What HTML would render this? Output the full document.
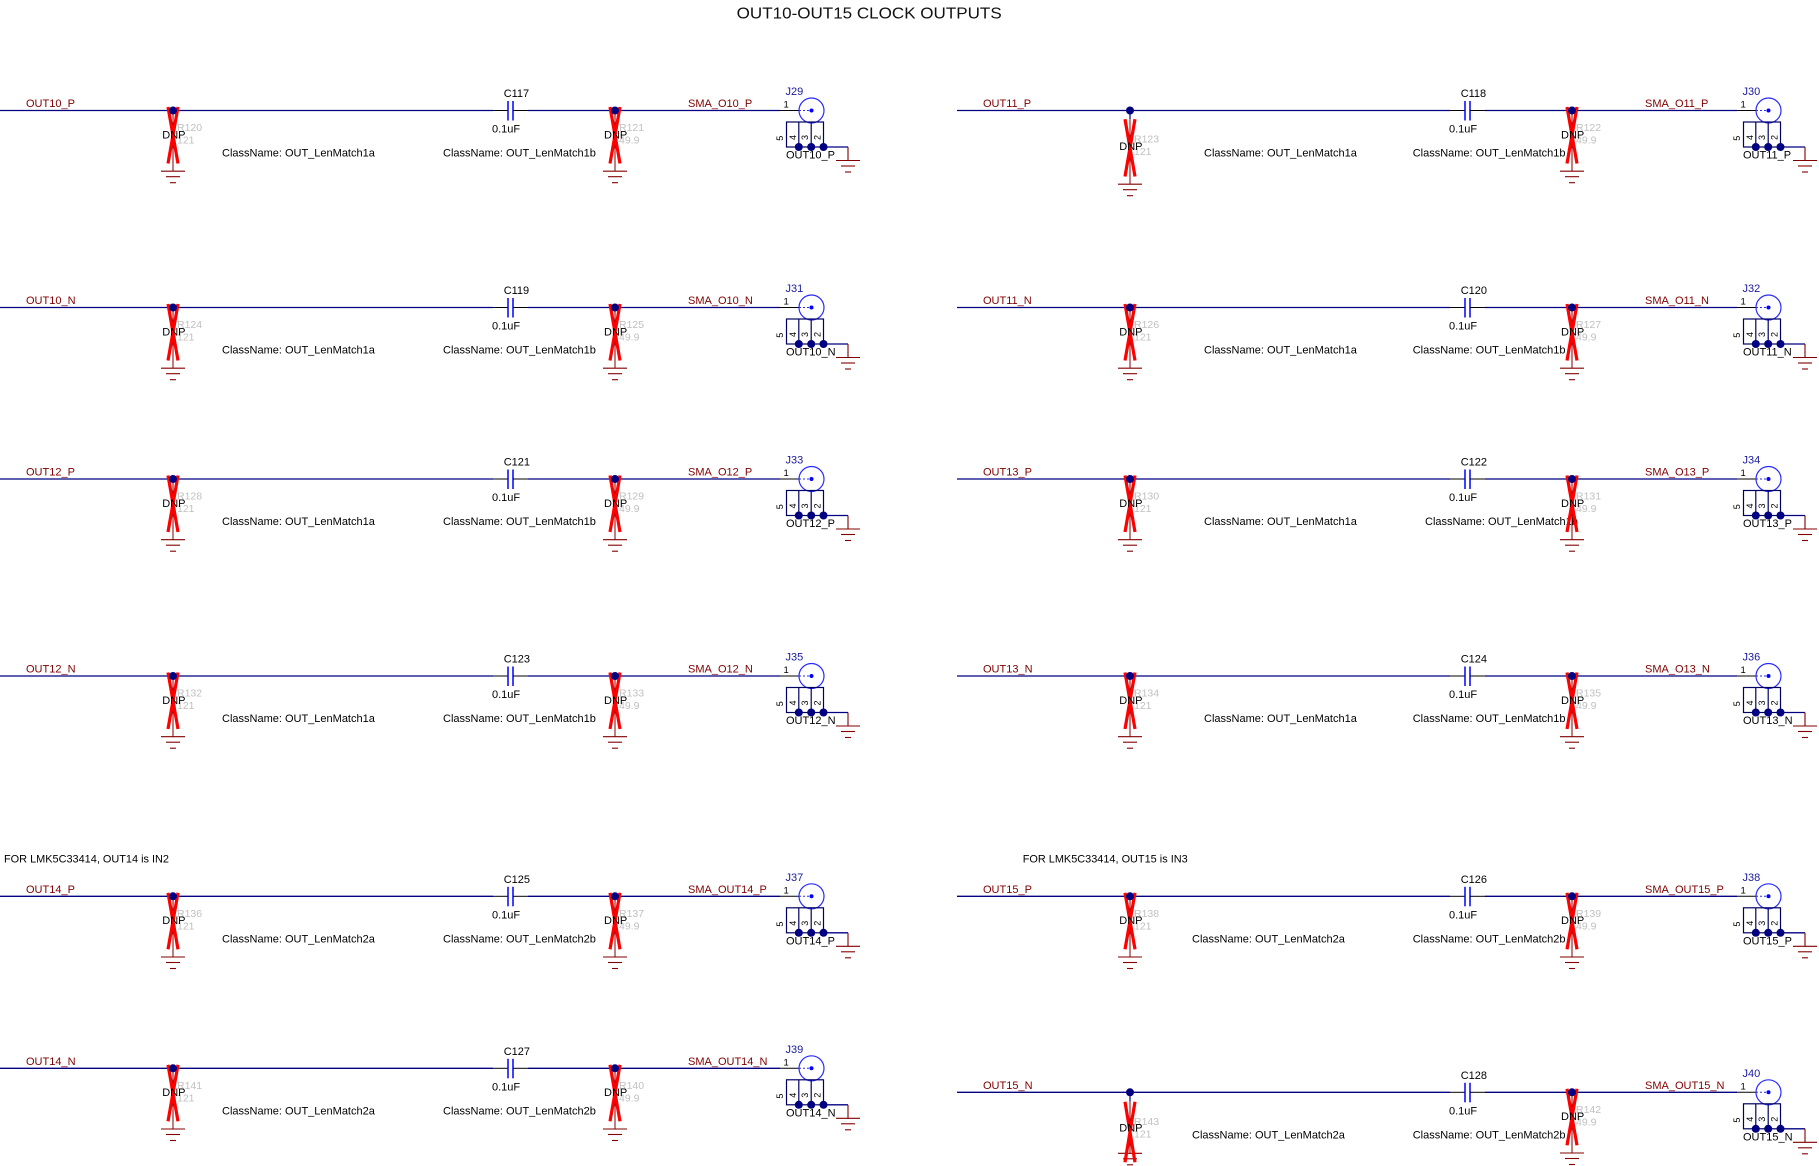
<!DOCTYPE html>
<html>
<head>
<meta charset="utf-8">
<style>
html,body{margin:0;padding:0;background:#fff;}
svg{display:block;}
.t{font-family:"Liberation Sans",Arial,sans-serif;font-size:11px;fill:#000;}
.nl{fill:#800000;}
.rl{fill:#c0c0c0;font-size:10.5px;}
.jl{fill:#1a1aa0;}
.pn{font-size:9.5px;}
.dg{font-size:9px;}
.ti{font-size:16px;fill:#111;}
.net{stroke:#000080;stroke-width:1.3;}
.blk{stroke:#000;stroke-width:1;}
</style>
</head>
<body>
<svg xmlns="http://www.w3.org/2000/svg" xmlns:xlink="http://www.w3.org/1999/xlink" width="1819" height="1166" viewBox="0 0 1819 1166">
<defs>
  <g id="gnd" stroke="#800000" stroke-width="1.1">
    <line x1="-12" y1="0" x2="12" y2="0"/>
    <line x1="-7" y1="5.5" x2="7" y2="5.5"/>
    <line x1="-3" y1="11.5" x2="3" y2="11.5"/>
  </g>
  <g id="res">
    <line x1="0" y1="0" x2="0" y2="60.7" stroke="#800000" stroke-width="1"/>
    <line x1="-5" y1="-3.5" x2="5" y2="53" stroke="#ff0000" stroke-width="3.2"/>
    <line x1="5" y1="-3.5" x2="-5" y2="53" stroke="#ff0000" stroke-width="3.2"/>
    <circle cx="0" cy="0" r="4" fill="#000080"/>
    <use xlink:href="#gnd" href="#gnd" x="0" y="60.7"/>
  </g>
  <g id="resL">
    <line x1="0" y1="0" x2="0" y2="8.7" stroke="#000080" stroke-width="1.2"/>
    <line x1="0" y1="8.7" x2="0" y2="73.7" stroke="#800000" stroke-width="1"/>
    <line x1="-5" y1="8.7" x2="5" y2="66" stroke="#ff0000" stroke-width="3.2"/>
    <line x1="5" y1="8.7" x2="-5" y2="66" stroke="#ff0000" stroke-width="3.2"/>
    <circle cx="0" cy="0" r="4" fill="#000080"/>
    <use xlink:href="#gnd" href="#gnd" x="0" y="73.7"/>
  </g>
  <g id="resB">
    <line x1="0" y1="0" x2="0" y2="9.4" stroke="#000080" stroke-width="1.2"/>
    <line x1="0" y1="9.4" x2="0" y2="61" stroke="#800000" stroke-width="1"/>
    <use xlink:href="#gnd" href="#gnd" x="0" y="61"/>
    <line x1="-5" y1="9.4" x2="5" y2="70" stroke="#ff0000" stroke-width="3.2"/>
    <line x1="5" y1="9.4" x2="-5" y2="70" stroke="#ff0000" stroke-width="3.2"/>
    <circle cx="0" cy="0" r="4" fill="#000080"/>
  </g>
  <g id="wire">
    <line class="net" x1="0" y1="0" x2="493" y2="0"/>
    <line class="blk" x1="493" y1="0" x2="508" y2="0"/>
    <line x1="508" y1="-9.5" x2="508" y2="10" stroke="#0000ff" stroke-width="1.5"/>
    <line x1="513" y1="-9.5" x2="513" y2="10" stroke="#0000ff" stroke-width="1.5"/>
    <line class="blk" x1="513" y1="0" x2="528" y2="0"/>
    <line class="net" x1="528" y1="0" x2="780" y2="0"/>
  </g>
  <g id="conn">
    <line x1="780" y1="0" x2="799" y2="0" stroke="#000" stroke-width="1"/>
    <circle cx="811.5" cy="0" r="12.5" fill="none" stroke="#2a2aff" stroke-width="1.2"/>
    <line x1="799" y1="0" x2="811.5" y2="0" stroke="#2a2aff" stroke-width="1" stroke-dasharray="2,2"/>
    <circle cx="811.5" cy="0" r="2" fill="#0000ff"/>
    <rect x="786.5" y="11.5" width="37" height="25" fill="none" stroke="#000060" stroke-width="1.2"/>
    <line x1="798.8" y1="11.5" x2="798.8" y2="36.5" stroke="#000060" stroke-width="1.2"/>
    <line x1="811.2" y1="11.5" x2="811.2" y2="36.5" stroke="#000060" stroke-width="1.2"/>
    <line x1="823.5" y1="36.5" x2="848" y2="36.5" stroke="#000080" stroke-width="1.3"/>
    <line x1="848" y1="36.5" x2="848" y2="50" stroke="#800000" stroke-width="1.1"/>
    <use xlink:href="#gnd" href="#gnd" x="848" y="50"/>
    <circle cx="798.8" cy="36.5" r="4" fill="#000080"/>
    <circle cx="811.2" cy="36.5" r="4" fill="#000080"/>
    <circle cx="823.5" cy="36.5" r="4" fill="#000080"/>
  </g>
</defs>

<text class="t ti" x="736.7" y="18.3" textLength="265" lengthAdjust="spacingAndGlyphs">OUT10-OUT15 CLOCK OUTPUTS</text>

<text class="t" x="4" y="862.7" textLength="165" lengthAdjust="spacingAndGlyphs">FOR LMK5C33414, OUT14 is IN2</text>
<text class="t" x="1022.7" y="862.7" textLength="165" lengthAdjust="spacingAndGlyphs">FOR LMK5C33414, OUT15 is IN3</text>

<!-- ================= LEFT COLUMN ================= -->
<!-- L1 -->
<g transform="translate(0,110.5)">
  <use xlink:href="#wire" href="#wire"/>
  <text class="t nl" x="26" y="-3.5">OUT10_P</text>
  <text class="t rl" x="177" y="20.5">R120</text>
  <text class="t rl" x="177" y="33">121</text>
  <use xlink:href="#res" href="#res" x="173"/>
  <text class="t" x="162.3" y="27.8">DNP</text>
  <text class="t" x="222" y="46">ClassName: OUT_LenMatch1a</text>
  <text class="t" x="503.7" y="-13.5">C117</text>
  <text class="t" x="492" y="22">0.1uF</text>
  <text class="t" x="443" y="46">ClassName: OUT_LenMatch1b</text>
  <text class="t rl" x="619" y="20.5">R121</text>
  <text class="t rl" x="619" y="33">49.9</text>
  <use xlink:href="#res" href="#res" x="615"/>
  <text class="t" x="604" y="27.8">DNP</text>
  <text class="t nl" x="688" y="-3.5">SMA_O10_P</text>
  <text class="t jl" x="785.5" y="-15.3">J29</text>
  <text class="t pn" x="783.5" y="-3">1</text>
  <use xlink:href="#conn" href="#conn"/>
  <text class="t dg" transform="translate(779.7,27.8) rotate(-90)" x="0" y="3.2" text-anchor="middle">5</text>
  <text class="t dg" transform="translate(792.8,27) rotate(-90)" x="0" y="3.2" text-anchor="middle">4</text>
  <text class="t dg" transform="translate(805,27) rotate(-90)" x="0" y="3.2" text-anchor="middle">3</text>
  <text class="t dg" transform="translate(817.3,27) rotate(-90)" x="0" y="3.2" text-anchor="middle">2</text>
  <text class="t" x="786" y="48">OUT10_P</text>
</g>
<!-- L2 -->
<g transform="translate(0,307.5)">
  <use xlink:href="#wire" href="#wire"/>
  <text class="t nl" x="26" y="-3.5">OUT10_N</text>
  <text class="t rl" x="177" y="20.5">R124</text>
  <text class="t rl" x="177" y="33">121</text>
  <use xlink:href="#res" href="#res" x="173"/>
  <text class="t" x="162.3" y="27.8">DNP</text>
  <text class="t" x="222" y="46">ClassName: OUT_LenMatch1a</text>
  <text class="t" x="503.7" y="-13.5">C119</text>
  <text class="t" x="492" y="22">0.1uF</text>
  <text class="t" x="443" y="46">ClassName: OUT_LenMatch1b</text>
  <text class="t rl" x="619" y="20.5">R125</text>
  <text class="t rl" x="619" y="33">49.9</text>
  <use xlink:href="#res" href="#res" x="615"/>
  <text class="t" x="604" y="27.8">DNP</text>
  <text class="t nl" x="688" y="-3.5">SMA_O10_N</text>
  <text class="t jl" x="785.5" y="-15.3">J31</text>
  <text class="t pn" x="783.5" y="-3">1</text>
  <use xlink:href="#conn" href="#conn"/>
  <text class="t dg" transform="translate(779.7,27.8) rotate(-90)" x="0" y="3.2" text-anchor="middle">5</text>
  <text class="t dg" transform="translate(792.8,27) rotate(-90)" x="0" y="3.2" text-anchor="middle">4</text>
  <text class="t dg" transform="translate(805,27) rotate(-90)" x="0" y="3.2" text-anchor="middle">3</text>
  <text class="t dg" transform="translate(817.3,27) rotate(-90)" x="0" y="3.2" text-anchor="middle">2</text>
  <text class="t" x="786" y="48">OUT10_N</text>
</g>
<!-- L3 -->
<g transform="translate(0,479)">
  <use xlink:href="#wire" href="#wire"/>
  <text class="t nl" x="26" y="-3.5">OUT12_P</text>
  <text class="t rl" x="177" y="20.5">R128</text>
  <text class="t rl" x="177" y="33">121</text>
  <use xlink:href="#res" href="#res" x="173"/>
  <text class="t" x="162.3" y="27.8">DNP</text>
  <text class="t" x="222" y="46">ClassName: OUT_LenMatch1a</text>
  <text class="t" x="503.7" y="-13.5">C121</text>
  <text class="t" x="492" y="22">0.1uF</text>
  <text class="t" x="443" y="46">ClassName: OUT_LenMatch1b</text>
  <text class="t rl" x="619" y="20.5">R129</text>
  <text class="t rl" x="619" y="33">49.9</text>
  <use xlink:href="#res" href="#res" x="615"/>
  <text class="t" x="604" y="27.8">DNP</text>
  <text class="t nl" x="688" y="-3.5">SMA_O12_P</text>
  <text class="t jl" x="785.5" y="-15.3">J33</text>
  <text class="t pn" x="783.5" y="-3">1</text>
  <use xlink:href="#conn" href="#conn"/>
  <text class="t dg" transform="translate(779.7,27.8) rotate(-90)" x="0" y="3.2" text-anchor="middle">5</text>
  <text class="t dg" transform="translate(792.8,27) rotate(-90)" x="0" y="3.2" text-anchor="middle">4</text>
  <text class="t dg" transform="translate(805,27) rotate(-90)" x="0" y="3.2" text-anchor="middle">3</text>
  <text class="t dg" transform="translate(817.3,27) rotate(-90)" x="0" y="3.2" text-anchor="middle">2</text>
  <text class="t" x="786" y="48">OUT12_P</text>
</g>
<!-- L4 -->
<g transform="translate(0,676)">
  <use xlink:href="#wire" href="#wire"/>
  <text class="t nl" x="26" y="-3.5">OUT12_N</text>
  <text class="t rl" x="177" y="20.5">R132</text>
  <text class="t rl" x="177" y="33">121</text>
  <use xlink:href="#res" href="#res" x="173"/>
  <text class="t" x="162.3" y="27.8">DNP</text>
  <text class="t" x="222" y="46">ClassName: OUT_LenMatch1a</text>
  <text class="t" x="503.7" y="-13.5">C123</text>
  <text class="t" x="492" y="22">0.1uF</text>
  <text class="t" x="443" y="46">ClassName: OUT_LenMatch1b</text>
  <text class="t rl" x="619" y="20.5">R133</text>
  <text class="t rl" x="619" y="33">49.9</text>
  <use xlink:href="#res" href="#res" x="615"/>
  <text class="t" x="604" y="27.8">DNP</text>
  <text class="t nl" x="688" y="-3.5">SMA_O12_N</text>
  <text class="t jl" x="785.5" y="-15.3">J35</text>
  <text class="t pn" x="783.5" y="-3">1</text>
  <use xlink:href="#conn" href="#conn"/>
  <text class="t dg" transform="translate(779.7,27.8) rotate(-90)" x="0" y="3.2" text-anchor="middle">5</text>
  <text class="t dg" transform="translate(792.8,27) rotate(-90)" x="0" y="3.2" text-anchor="middle">4</text>
  <text class="t dg" transform="translate(805,27) rotate(-90)" x="0" y="3.2" text-anchor="middle">3</text>
  <text class="t dg" transform="translate(817.3,27) rotate(-90)" x="0" y="3.2" text-anchor="middle">2</text>
  <text class="t" x="786" y="48">OUT12_N</text>
</g>
<!-- L5 -->
<g transform="translate(0,896.3)">
  <use xlink:href="#wire" href="#wire"/>
  <text class="t nl" x="26" y="-3.5">OUT14_P</text>
  <text class="t rl" x="177" y="20.5">R136</text>
  <text class="t rl" x="177" y="33">121</text>
  <use xlink:href="#res" href="#res" x="173"/>
  <text class="t" x="162.3" y="27.8">DNP</text>
  <text class="t" x="222" y="46">ClassName: OUT_LenMatch2a</text>
  <text class="t" x="503.7" y="-13.5">C125</text>
  <text class="t" x="492" y="22">0.1uF</text>
  <text class="t" x="443" y="46">ClassName: OUT_LenMatch2b</text>
  <text class="t rl" x="619" y="20.5">R137</text>
  <text class="t rl" x="619" y="33">49.9</text>
  <use xlink:href="#res" href="#res" x="615"/>
  <text class="t" x="604" y="27.8">DNP</text>
  <text class="t nl" x="688" y="-3.5">SMA_OUT14_P</text>
  <text class="t jl" x="785.5" y="-15.3">J37</text>
  <text class="t pn" x="783.5" y="-3">1</text>
  <use xlink:href="#conn" href="#conn"/>
  <text class="t dg" transform="translate(779.7,27.8) rotate(-90)" x="0" y="3.2" text-anchor="middle">5</text>
  <text class="t dg" transform="translate(792.8,27) rotate(-90)" x="0" y="3.2" text-anchor="middle">4</text>
  <text class="t dg" transform="translate(805,27) rotate(-90)" x="0" y="3.2" text-anchor="middle">3</text>
  <text class="t dg" transform="translate(817.3,27) rotate(-90)" x="0" y="3.2" text-anchor="middle">2</text>
  <text class="t" x="786" y="48">OUT14_P</text>
</g>
<!-- L6 -->
<g transform="translate(0,1068.3)">
  <use xlink:href="#wire" href="#wire"/>
  <text class="t nl" x="26" y="-3.5">OUT14_N</text>
  <text class="t rl" x="177" y="20.5">R141</text>
  <text class="t rl" x="177" y="33">121</text>
  <use xlink:href="#res" href="#res" x="173"/>
  <text class="t" x="162.3" y="27.8">DNP</text>
  <text class="t" x="222" y="46">ClassName: OUT_LenMatch2a</text>
  <text class="t" x="503.7" y="-13.5">C127</text>
  <text class="t" x="492" y="22">0.1uF</text>
  <text class="t" x="443" y="46">ClassName: OUT_LenMatch2b</text>
  <text class="t rl" x="619" y="20.5">R140</text>
  <text class="t rl" x="619" y="33">49.9</text>
  <use xlink:href="#res" href="#res" x="615"/>
  <text class="t" x="604" y="27.8">DNP</text>
  <text class="t nl" x="688" y="-3.5">SMA_OUT14_N</text>
  <text class="t jl" x="785.5" y="-15.3">J39</text>
  <text class="t pn" x="783.5" y="-3">1</text>
  <use xlink:href="#conn" href="#conn"/>
  <text class="t dg" transform="translate(779.7,27.8) rotate(-90)" x="0" y="3.2" text-anchor="middle">5</text>
  <text class="t dg" transform="translate(792.8,27) rotate(-90)" x="0" y="3.2" text-anchor="middle">4</text>
  <text class="t dg" transform="translate(805,27) rotate(-90)" x="0" y="3.2" text-anchor="middle">3</text>
  <text class="t dg" transform="translate(817.3,27) rotate(-90)" x="0" y="3.2" text-anchor="middle">2</text>
  <text class="t" x="786" y="48">OUT14_N</text>
</g>

<!-- ================= RIGHT COLUMN ================= -->
<!-- R1 -->
<g transform="translate(957,110.5)">
  <use xlink:href="#wire" href="#wire"/>
  <text class="t nl" x="26" y="-3.5">OUT11_P</text>
  <text class="t rl" x="177" y="32">R123</text>
  <text class="t rl" x="177" y="44.5">121</text>
  <use xlink:href="#resL" href="#resL" x="173"/>
  <text class="t" x="162.3" y="39.3">DNP</text>
  <text class="t" x="247" y="46">ClassName: OUT_LenMatch1a</text>
  <text class="t" x="503.7" y="-13.5">C118</text>
  <text class="t" x="492" y="22">0.1uF</text>
  <text class="t" x="455.7" y="46">ClassName: OUT_LenMatch1b</text>
  <text class="t rl" x="619" y="20.5">R122</text>
  <text class="t rl" x="619" y="33">49.9</text>
  <use xlink:href="#res" href="#res" x="615"/>
  <text class="t" x="604" y="27.8">DNP</text>
  <text class="t nl" x="688" y="-3.5">SMA_O11_P</text>
  <text class="t jl" x="785.5" y="-15.3">J30</text>
  <text class="t pn" x="783.5" y="-3">1</text>
  <use xlink:href="#conn" href="#conn"/>
  <text class="t dg" transform="translate(779.7,27.8) rotate(-90)" x="0" y="3.2" text-anchor="middle">5</text>
  <text class="t dg" transform="translate(792.8,27) rotate(-90)" x="0" y="3.2" text-anchor="middle">4</text>
  <text class="t dg" transform="translate(805,27) rotate(-90)" x="0" y="3.2" text-anchor="middle">3</text>
  <text class="t dg" transform="translate(817.3,27) rotate(-90)" x="0" y="3.2" text-anchor="middle">2</text>
  <text class="t" x="786" y="48">OUT11_P</text>
</g>
<!-- R2 -->
<g transform="translate(957,307.5)">
  <use xlink:href="#wire" href="#wire"/>
  <text class="t nl" x="26" y="-3.5">OUT11_N</text>
  <text class="t rl" x="177" y="20.5">R126</text>
  <text class="t rl" x="177" y="33">121</text>
  <use xlink:href="#res" href="#res" x="173"/>
  <text class="t" x="162.3" y="27.8">DNP</text>
  <text class="t" x="247" y="46">ClassName: OUT_LenMatch1a</text>
  <text class="t" x="503.7" y="-13.5">C120</text>
  <text class="t" x="492" y="22">0.1uF</text>
  <text class="t" x="455.7" y="46">ClassName: OUT_LenMatch1b</text>
  <text class="t rl" x="619" y="20.5">R127</text>
  <text class="t rl" x="619" y="33">49.9</text>
  <use xlink:href="#res" href="#res" x="615"/>
  <text class="t" x="604" y="27.8">DNP</text>
  <text class="t nl" x="688" y="-3.5">SMA_O11_N</text>
  <text class="t jl" x="785.5" y="-15.3">J32</text>
  <text class="t pn" x="783.5" y="-3">1</text>
  <use xlink:href="#conn" href="#conn"/>
  <text class="t dg" transform="translate(779.7,27.8) rotate(-90)" x="0" y="3.2" text-anchor="middle">5</text>
  <text class="t dg" transform="translate(792.8,27) rotate(-90)" x="0" y="3.2" text-anchor="middle">4</text>
  <text class="t dg" transform="translate(805,27) rotate(-90)" x="0" y="3.2" text-anchor="middle">3</text>
  <text class="t dg" transform="translate(817.3,27) rotate(-90)" x="0" y="3.2" text-anchor="middle">2</text>
  <text class="t" x="786" y="48">OUT11_N</text>
</g>
<!-- R3 -->
<g transform="translate(957,479)">
  <use xlink:href="#wire" href="#wire"/>
  <text class="t nl" x="26" y="-3.5">OUT13_P</text>
  <text class="t rl" x="177" y="20.5">R130</text>
  <text class="t rl" x="177" y="33">121</text>
  <use xlink:href="#res" href="#res" x="173"/>
  <text class="t" x="162.3" y="27.8">DNP</text>
  <text class="t" x="247" y="46">ClassName: OUT_LenMatch1a</text>
  <text class="t" x="503.7" y="-13.5">C122</text>
  <text class="t" x="492" y="22">0.1uF</text>
  <text class="t rl" x="619" y="20.5">R131</text>
  <text class="t rl" x="619" y="33">49.9</text>
  <text class="t" x="468" y="46">ClassName: OUT_LenMatch1b</text>
  <use xlink:href="#res" href="#res" x="615"/>
  <text class="t" x="604" y="27.8">DNP</text>
  <text class="t nl" x="688" y="-3.5">SMA_O13_P</text>
  <text class="t jl" x="785.5" y="-15.3">J34</text>
  <text class="t pn" x="783.5" y="-3">1</text>
  <use xlink:href="#conn" href="#conn"/>
  <text class="t dg" transform="translate(779.7,27.8) rotate(-90)" x="0" y="3.2" text-anchor="middle">5</text>
  <text class="t dg" transform="translate(792.8,27) rotate(-90)" x="0" y="3.2" text-anchor="middle">4</text>
  <text class="t dg" transform="translate(805,27) rotate(-90)" x="0" y="3.2" text-anchor="middle">3</text>
  <text class="t dg" transform="translate(817.3,27) rotate(-90)" x="0" y="3.2" text-anchor="middle">2</text>
  <text class="t" x="786" y="48">OUT13_P</text>
</g>
<!-- R4 -->
<g transform="translate(957,676)">
  <use xlink:href="#wire" href="#wire"/>
  <text class="t nl" x="26" y="-3.5">OUT13_N</text>
  <text class="t rl" x="177" y="20.5">R134</text>
  <text class="t rl" x="177" y="33">121</text>
  <use xlink:href="#res" href="#res" x="173"/>
  <text class="t" x="162.3" y="27.8">DNP</text>
  <text class="t" x="247" y="46">ClassName: OUT_LenMatch1a</text>
  <text class="t" x="503.7" y="-13.5">C124</text>
  <text class="t" x="492" y="22">0.1uF</text>
  <text class="t" x="455.7" y="46">ClassName: OUT_LenMatch1b</text>
  <text class="t rl" x="619" y="20.5">R135</text>
  <text class="t rl" x="619" y="33">49.9</text>
  <use xlink:href="#res" href="#res" x="615"/>
  <text class="t" x="604" y="27.8">DNP</text>
  <text class="t nl" x="688" y="-3.5">SMA_O13_N</text>
  <text class="t jl" x="785.5" y="-15.3">J36</text>
  <text class="t pn" x="783.5" y="-3">1</text>
  <use xlink:href="#conn" href="#conn"/>
  <text class="t dg" transform="translate(779.7,27.8) rotate(-90)" x="0" y="3.2" text-anchor="middle">5</text>
  <text class="t dg" transform="translate(792.8,27) rotate(-90)" x="0" y="3.2" text-anchor="middle">4</text>
  <text class="t dg" transform="translate(805,27) rotate(-90)" x="0" y="3.2" text-anchor="middle">3</text>
  <text class="t dg" transform="translate(817.3,27) rotate(-90)" x="0" y="3.2" text-anchor="middle">2</text>
  <text class="t" x="786" y="48">OUT13_N</text>
</g>
<!-- R5 -->
<g transform="translate(957,896.3)">
  <use xlink:href="#wire" href="#wire"/>
  <text class="t nl" x="26" y="-3.5">OUT15_P</text>
  <text class="t rl" x="177" y="20.5">R138</text>
  <text class="t rl" x="177" y="33">121</text>
  <use xlink:href="#res" href="#res" x="173"/>
  <text class="t" x="162.3" y="27.8">DNP</text>
  <text class="t" x="235" y="46">ClassName: OUT_LenMatch2a</text>
  <text class="t" x="503.7" y="-13.5">C126</text>
  <text class="t" x="492" y="22">0.1uF</text>
  <text class="t" x="455.7" y="46">ClassName: OUT_LenMatch2b</text>
  <text class="t rl" x="619" y="20.5">R139</text>
  <text class="t rl" x="619" y="33">49.9</text>
  <use xlink:href="#res" href="#res" x="615"/>
  <text class="t" x="604" y="27.8">DNP</text>
  <text class="t nl" x="688" y="-3.5">SMA_OUT15_P</text>
  <text class="t jl" x="785.5" y="-15.3">J38</text>
  <text class="t pn" x="783.5" y="-3">1</text>
  <use xlink:href="#conn" href="#conn"/>
  <text class="t dg" transform="translate(779.7,27.8) rotate(-90)" x="0" y="3.2" text-anchor="middle">5</text>
  <text class="t dg" transform="translate(792.8,27) rotate(-90)" x="0" y="3.2" text-anchor="middle">4</text>
  <text class="t dg" transform="translate(805,27) rotate(-90)" x="0" y="3.2" text-anchor="middle">3</text>
  <text class="t dg" transform="translate(817.3,27) rotate(-90)" x="0" y="3.2" text-anchor="middle">2</text>
  <text class="t" x="786" y="48">OUT15_P</text>
</g>
<!-- R6 -->
<g transform="translate(957,1092.3)">
  <use xlink:href="#wire" href="#wire"/>
  <text class="t nl" x="26" y="-3.5">OUT15_N</text>
  <text class="t rl" x="177" y="32.7">R143</text>
  <text class="t rl" x="177" y="45.4">121</text>
  <use xlink:href="#resB" href="#resB" x="173"/>
  <text class="t" x="162.3" y="39.4">DNP</text>
  <text class="t" x="235" y="46">ClassName: OUT_LenMatch2a</text>
  <text class="t" x="503.7" y="-13.5">C128</text>
  <text class="t" x="492" y="22">0.1uF</text>
  <text class="t" x="455.7" y="46">ClassName: OUT_LenMatch2b</text>
  <text class="t rl" x="619" y="20.5">R142</text>
  <text class="t rl" x="619" y="33">49.9</text>
  <use xlink:href="#res" href="#res" x="615"/>
  <text class="t" x="604" y="27.8">DNP</text>
  <text class="t nl" x="688" y="-3.5">SMA_OUT15_N</text>
  <text class="t jl" x="785.5" y="-15.3">J40</text>
  <text class="t pn" x="783.5" y="-3">1</text>
  <use xlink:href="#conn" href="#conn"/>
  <text class="t dg" transform="translate(779.7,27.8) rotate(-90)" x="0" y="3.2" text-anchor="middle">5</text>
  <text class="t dg" transform="translate(792.8,27) rotate(-90)" x="0" y="3.2" text-anchor="middle">4</text>
  <text class="t dg" transform="translate(805,27) rotate(-90)" x="0" y="3.2" text-anchor="middle">3</text>
  <text class="t dg" transform="translate(817.3,27) rotate(-90)" x="0" y="3.2" text-anchor="middle">2</text>
  <text class="t" x="786" y="48">OUT15_N</text>
</g>
</svg>
</body>
</html>
